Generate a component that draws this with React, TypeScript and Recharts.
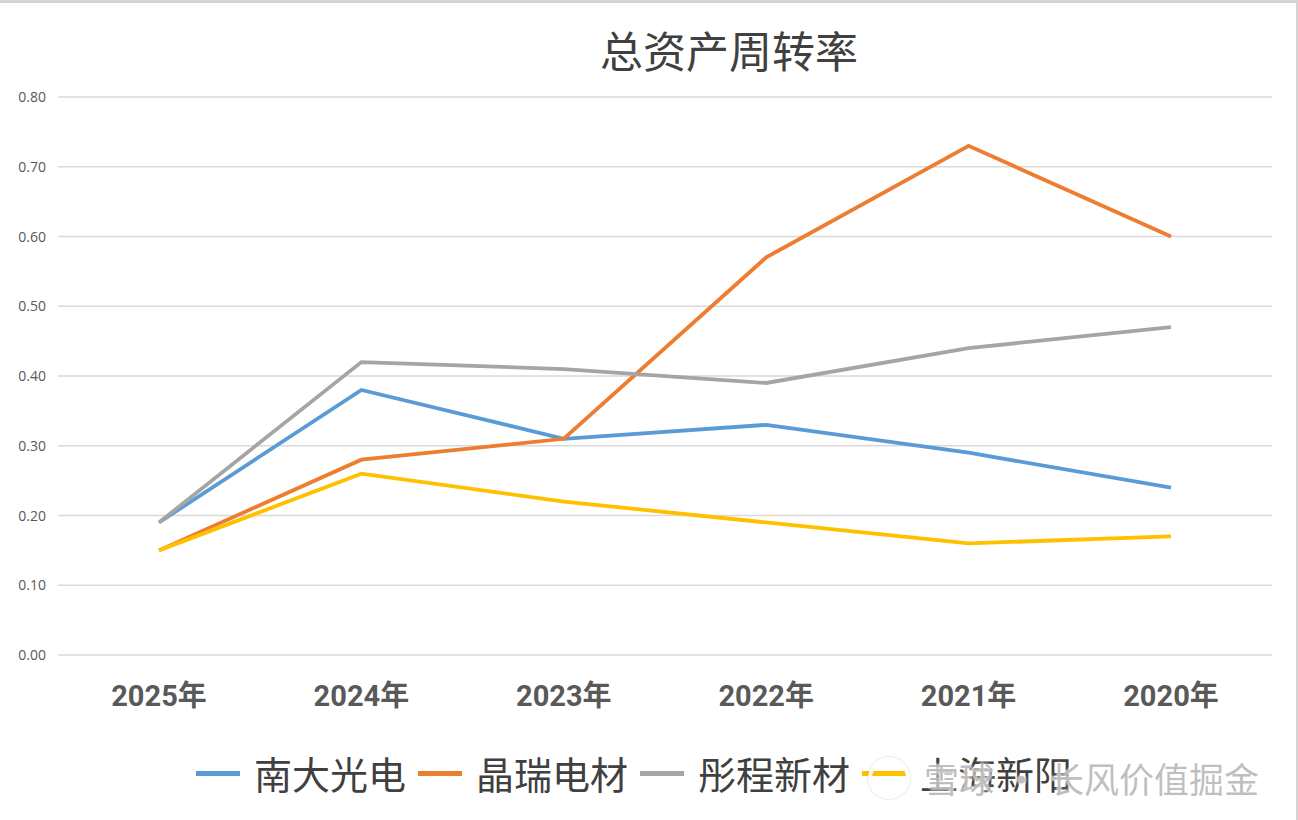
import { LineChart, Line, XAxis, YAxis, CartesianGrid } from "recharts";

const years = ["2025年", "2024年", "2023年", "2022年", "2021年", "2020年"];
const nandaGuangdian = [0.19, 0.38, 0.31, 0.33, 0.29, 0.24];
const jingruiDiancai = [0.15, 0.28, 0.31, 0.57, 0.73, 0.6];
const tongchengXincai = [0.19, 0.42, 0.41, 0.39, 0.44, 0.47];
const shanghaiXinyang = [0.15, 0.26, 0.22, 0.19, 0.16, 0.17];
const yTicks = [0, 0.1, 0.2, 0.3, 0.4, 0.5, 0.6, 0.7, 0.8];

const series = [
  { key: "南大光电", color: "#5B9BD5" },
  { key: "晶瑞电材", color: "#ED7D31" },
  { key: "彤程新材", color: "#A5A5A5" },
  { key: "上海新阳", color: "#FFC000" },
];

const data = years.map((year, i) => ({
  year,
  南大光电: nandaGuangdian[i],
  晶瑞电材: jingruiDiancai[i],
  彤程新材: tongchengXincai[i],
  上海新阳: shanghaiXinyang[i],
}));

const cjk = '"Noto Sans CJK SC", sans-serif';

const XTick = ({ x, y, payload }: any) => (
  <text
    x={x}
    y={y + 43}
    textAnchor="middle"
    fill="#595959"
    fontSize={29}
    fontWeight={700}
    fontFamily={'Roboto, "Noto Sans CJK SC", sans-serif'}
  >
    {payload.value}
  </text>
);

const YTick = ({ y, payload }: any) => (
  <text
    x={46}
    y={y + 5}
    textAnchor="end"
    fill="#595959"
    fontSize={14}
    fontFamily={'"Open Sans", sans-serif'}
  >
    {Number(payload.value).toFixed(2)}
  </text>
);

export default function App() {
  return (
    <div
      style={{
        position: "absolute",
        left: 0,
        top: 0,
        width: 1298,
        height: 820,
        background: "#fff",
        overflow: "hidden",
        boxSizing: "border-box",
        borderTop: "3px solid #d4d4d4",
        borderRight: "2px solid #d4d4d4",
      }}
    >
      <div
        style={{
          position: "absolute",
          left: 600,
          top: 18,
          fontFamily: cjk,
          fontSize: 43,
          lineHeight: "56px",
          color: "#404040",
          whiteSpace: "nowrap",
        }}
      >
        总资产周转率
      </div>
      <div style={{ position: "absolute", left: 0, top: -3 }}>
        <LineChart
          width={1298}
          height={820}
          data={data}
          margin={{ top: 97, right: 26, left: 0, bottom: 0 }}
        >
          <CartesianGrid vertical={false} stroke="#D9D9D9" strokeWidth={1.5} />
          <XAxis
            dataKey="year"
            axisLine={false}
            tickLine={false}
            height={165}
            tick={<XTick />}
            interval={0}
            padding={{ left: 101, right: 101 }}
          />
          <YAxis
            domain={[0, 0.8]}
            ticks={yTicks}
            width={58}
            axisLine={false}
            tickLine={false}
            tick={<YTick />}
          />
          {series.map((s) => (
            <Line
              key={s.key}
              type="linear"
              dataKey={s.key}
              stroke={s.color}
              strokeWidth={3.8}
              dot={false}
              isAnimationActive={false}
            />
          ))}
        </LineChart>
      </div>
      <div
        style={{
          position: "absolute",
          left: 196,
          top: 744,
          display: "flex",
          alignItems: "center",
          fontFamily: cjk,
          fontSize: 38,
          lineHeight: "52px",
          color: "#404040",
          whiteSpace: "nowrap",
        }}
      >
        {series.map((s) => (
          <div key={s.key} style={{ display: "flex", alignItems: "center", marginRight: 12 }}>
            <span
              style={{
                display: "inline-block",
                width: 44,
                height: 5,
                background: s.color,
                marginRight: 14,
              }}
            />
            <span>{s.key}</span>
          </div>
        ))}
      </div>
      <div
        style={{
          position: "absolute",
          left: 868,
          top: 750,
          display: "flex",
          alignItems: "center",
          fontFamily: cjk,
          fontSize: 35,
          lineHeight: "50px",
          color: "rgba(170,170,170,0.75)",
          textShadow: "0 0 3px #fff, 0 0 3px #fff",
          whiteSpace: "nowrap",
        }}
      >
        <span
          style={{
            display: "inline-block",
            width: 34,
            height: 34,
            borderRadius: "50%",
            border: "4px solid rgba(255,255,255,0.9)",
            boxShadow: "0 0 2px rgba(150,150,150,0.6)",
            marginRight: 14,
          }}
        />
        <span>雪球</span>
        <span style={{ margin: "0 10px" }}>·</span>
        <span>长风价值掘金</span>
      </div>
    </div>
  );
}
